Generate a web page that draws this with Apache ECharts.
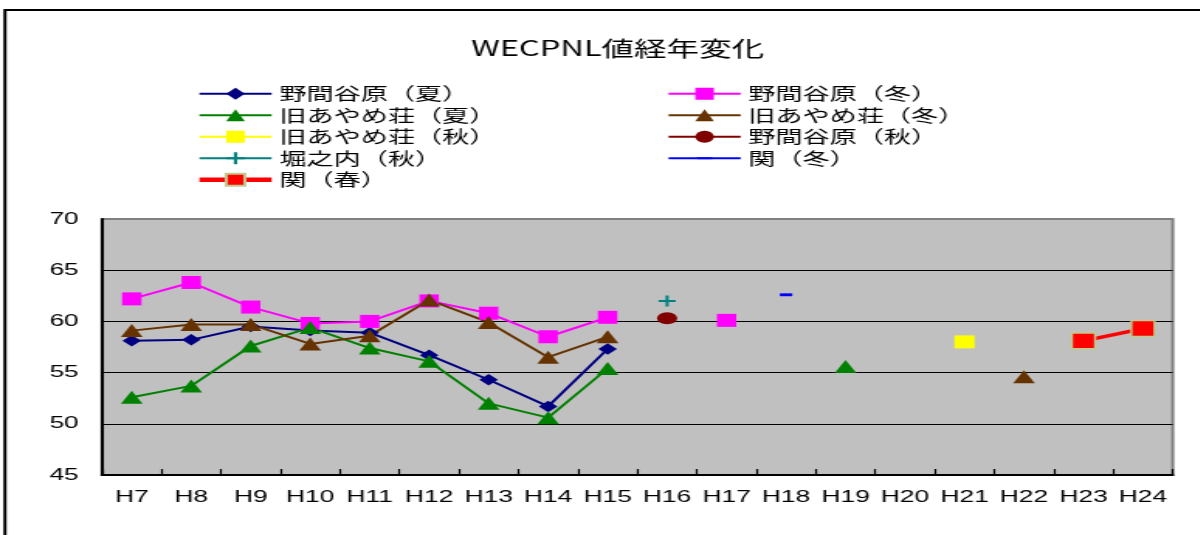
<!DOCTYPE html>
<html>
<head>
<meta charset="utf-8">
<title>WECPNL値経年変化</title>
<script src="https://cdn.jsdelivr.net/npm/echarts@6/dist/echarts.min.js"></script>
<style>
  html, body { margin: 0; padding: 0; background: #ffffff; overflow: hidden; }
  #wrap { width: 1200px; height: 535px; overflow: hidden; }
  #chart { height: 535px; transform-origin: 0 0; }
</style>
</head>
<body>
<div id="wrap"><div id="chart"></div></div>
<script>
// Fiscal years (Heisei)
const categories = ['H7','H8','H9','H10','H11','H12','H13','H14','H15','H16','H17','H18','H19','H20','H21','H22','H23','H24'];
const yTicks = { min: 45, max: 70, interval: 5 };

// WECPNL values per site / season (null = not measured)
const nomayaSummer     = [58.1, 58.2, 59.5, 59.1, 58.9, 56.7, 54.3, 51.7, 57.3, null, null, null, null, null, null, null, null, null];
const nomayaWinter     = [62.2, 63.8, 61.4, 59.8, 60.0, 62.0, 60.8, 58.5, 60.4, null, 60.1, null, null, null, null, null, null, null];
const ayameSummer      = [52.6, 53.7, 57.6, 59.4, 57.4, 56.1, 52.0, 50.6, 55.4, null, null, null, 55.6, null, null, null, null, null];
const ayameWinter      = [59.1, 59.7, 59.7, 57.8, 58.6, 62.1, 59.9, 56.5, 58.5, null, null, null, null, null, null, 54.6, null, null];
const ayameAutumn      = [null, null, null, null, null, null, null, null, null, null, null, null, null, null, 58.0, null, null, null];
const nomayaAutumn     = [null, null, null, null, null, null, null, null, null, 60.3, null, null, null, null, null, null, null, null];
const horinouchiAutumn = [null, null, null, null, null, null, null, null, null, 62.0, null, null, null, null, null, null, null, null];
const sekiWinter       = [null, null, null, null, null, null, null, null, null, null, null, 62.6, null, null, null, null, null, null];
const sekiSpring       = [null, null, null, null, null, null, null, null, null, null, null, null, null, null, null, null, 58.1, 59.3];

// The chart is laid out in a narrower box and stretched horizontally.
const SX = 1.55;
const W = 1200 / SX;
const chartEl = document.getElementById('chart');
chartEl.style.width = W + 'px';
chartEl.style.transform = 'scaleX(' + SX + ')';

const JP = '"Noto Sans CJK JP", "Noto Sans", sans-serif';
const plusPath = 'path://M4.1,0H5.9V4.1H10V5.9H5.9V10H4.1V5.9H0V4.1H4.1Z';
const dashPath = 'path://M0,0M10,10M1,4.2H9V5.8H1Z';

function lineSeries(name, data, color, symbol, size, extra) {
  return Object.assign({
    name: name,
    type: 'line',
    data: data,
    symbol: symbol,
    symbolSize: size,
    showSymbol: true,
    connectNulls: false,
    lineStyle: { color: color, width: 2 },
    itemStyle: { color: color, borderWidth: 0 },
    emphasis: { disabled: true }
  }, extra || {});
}

const series = [
  lineSeries('野間谷原（夏）', nomayaSummer, '#000080', 'diamond', [12, 11.5]),
  lineSeries('野間谷原（冬）', nomayaWinter, '#ff00ff', 'rect', [12.5, 13]),
  lineSeries('旧あやめ荘（夏）', ayameSummer, '#008000', 'triangle', [14, 13]),
  lineSeries('旧あやめ荘（冬）', ayameWinter, '#663300', 'triangle', [14, 13]),
  lineSeries('旧あやめ荘（秋）', ayameAutumn, '#ffff00', 'rect', [13, 13]),
  lineSeries('野間谷原（秋）', nomayaAutumn, '#800000', 'circle', [13, 12]),
  lineSeries('堀之内（秋）', horinouchiAutumn, '#008080', plusPath, [11, 11]),
  lineSeries('関（冬）', sekiWinter, '#0000ff', dashPath, [10, 18]),
  lineSeries('関（春）', sekiSpring, '#ff0000', 'rect', [15, 16], {
    lineStyle: { color: '#ff0000', width: 3.5 },
    itemStyle: { color: '#ff0000', borderColor: '#c2c88e', borderWidth: 1.5 }
  })
];

const legendBase = {
  orient: 'vertical',
  top: 85,
  padding: 0,
  itemWidth: 46.5,
  itemHeight: 15,
  itemGap: 4,
  selectedMode: false,
  textStyle: { fontFamily: JP, fontSize: 17.5, color: '#000', lineHeight: 15 }
};

const option = {
  animation: false,
  backgroundColor: '#ffffff',
  title: {
    text: 'WECPNL値経年変化',
    left: 610 / SX,
    textAlign: 'center',
    top: 33,
    textStyle: { fontFamily: JP, fontSize: 21, fontWeight: 'normal', color: '#000' }
  },
  legend: [
    Object.assign({}, legendBase, {
      left: 196 / SX,
      data: ['野間谷原（夏）', '旧あやめ荘（夏）', '旧あやめ荘（秋）', '堀之内（秋）',
             { name: '関（春）', lineStyle: { width: 4.5 } }]
    }),
    Object.assign({}, legendBase, {
      left: 667 / SX,
      data: ['野間谷原（冬）', '旧あやめ荘（冬）', '野間谷原（秋）', '関（冬）']
    })
  ],
  grid: {
    left: 102 / SX,
    right: W - 1173 / SX,
    top: 219,
    bottom: 60,
    show: true,
    backgroundColor: '#c0c0c0',
    borderColor: '#808080',
    borderWidth: 2
  },
  xAxis: {
    type: 'category',
    data: categories,
    boundaryGap: true,
    axisLine: { show: true, lineStyle: { color: '#000', width: 2 } },
    axisTick: { show: true, inside: true, length: 6, lineStyle: { color: '#000', width: 1.2 } },
    axisLabel: { color: '#000', fontSize: 17, margin: 14, fontFamily: '"Liberation Sans", sans-serif', interval: 0 },
    splitLine: { show: false }
  },
  yAxis: {
    type: 'value',
    min: yTicks.min,
    max: yTicks.max,
    interval: yTicks.interval,
    axisLine: { show: true, lineStyle: { color: '#000', width: 2 } },
    axisTick: { show: false },
    axisLabel: { color: '#000', fontSize: 17, margin: 15, fontFamily: '"Liberation Sans", sans-serif' },
    splitLine: { show: true, showMaxLine: false, showMinLine: false, lineStyle: { color: '#000', width: 1.2 } }
  },
  graphic: [{
    type: 'rect',
    silent: true,
    shape: { x: 5 / SX, y: 10, width: W + 20, height: 600 },
    style: { fill: 'none', stroke: '#000', lineWidth: 2 }
  }],
  series: series
};

const chart = echarts.init(chartEl, null, { renderer: 'canvas' });
chart.setOption(option);
</script>
</body>
</html>
